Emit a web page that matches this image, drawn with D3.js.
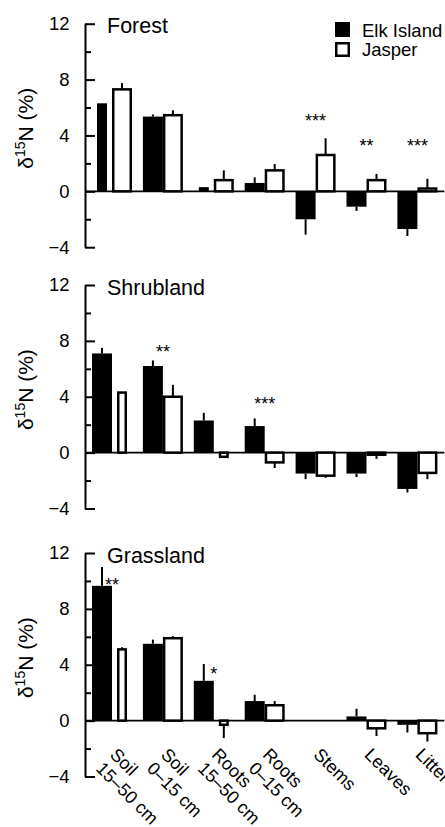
<!DOCTYPE html>
<html>
<head>
<meta charset="utf-8">
<script src="https://cdn.jsdelivr.net/npm/d3@7"></script>
<style>
  html, body { margin: 0; padding: 0; background: #fff; }
  svg { display: block; font-family: "Liberation Sans", Arial, Helvetica, sans-serif; }
</style>
</head>
<body>
<svg id="chart" width="445" height="827"></svg>
<script>
// ---------------- DATA ----------------
const categories = ["Soil 15–50 cm", "Soil 0–15 cm", "Roots 15–50 cm", "Roots 0–15 cm", "Stems", "Leaves", "Litter"];
const categoryLabelLines = [["Soil", "15–50 cm"], ["Soil", "0–15 cm"], ["Roots", "15–50 cm"], ["Roots", "0–15 cm"], ["Stems"], ["Leaves"], ["Litter"]];
const seriesNames = ["Elk Island", "Jasper"];
const panelNames = ["Forest", "Shrubland", "Grassland"];
const yTicksMajor = [-4, 0, 4, 8, 12];
const yTicksMinor = [-2, 2, 6, 10];

// δ15N values (‰) and one-sided error bars
const forestElk      = [6.3, 5.35, 0.3, 0.6, -2.0, -1.1, -2.7];
const forestElkErr   = [0, 0.15, 0, 0.4, 1.1, 0.3, 0.5];
const forestJasper   = [7.3, 5.45, 0.8, 1.5, 2.6, 0.8, 0.2];
const forestJasperErr= [0.45, 0.35, 0.7, 0.45, 1.2, 0.45, 0.7];

const shrubElk       = [7.1, 6.2, 2.3, 1.9, -1.5, -1.5, -2.6];
const shrubElkErr    = [0.4, 0.4, 0.55, 0.55, 0.4, 0.25, 0.25];
const shrubJasper    = [4.3, 4.0, -0.3, -0.7, -1.65, -0.15, -1.45];
const shrubJasperErr = [0, 0.85, 0, 0.4, 0.15, 0.3, 0.45];

const grassElk       = [9.65, 5.5, 2.85, 1.4, null, 0.3, -0.3];
const grassElkErr    = [1.35, 0.3, 1.2, 0.45, null, 0.55, 0.55];
const grassJasper    = [5.1, 5.9, -0.3, 1.1, null, -0.55, -0.9];
const grassJasperErr = [0.15, 0.15, 0.95, 0.3, null, 0.55, 0.6];

// significance marks and the δ15N level they sit at
const forestSig      = ["", "", "", "", "***", "**", "***"];
const forestSigLevel = [null, null, null, null, 4.6, 2.85, 2.85];
const shrubSig       = ["", "**", "", "***", "", "", ""];
const shrubSigLevel  = [null, 6.75, null, 3.05, null, null, null];
const grassSig       = ["**", "", "*", "", "", "", ""];
const grassSigLevel  = [9.25, null, 2.88, null, null, null, null];

// ---------------- LAYOUT / STYLE ----------------
const panelTops = [23.7, 285, 553];   // pixel y of the 12 tick in each panel
const panelHeight = 223.5;            // from 12 down to -4
const axisX = 85, plotRight = 444.4;
const narrowBars = { // bars drawn narrower in the source figure: [category index, series index]
  Forest: [[0, 0], [2, 0]],
  Shrubland: [[0, 1], [2, 1]],
  Grassland: [[0, 1], [2, 1]]
};

const panels = [
  { name: panelNames[0], vals: [forestElk, forestJasper], errs: [forestElkErr, forestJasperErr], sig: forestSig, sigLevel: forestSigLevel },
  { name: panelNames[1], vals: [shrubElk, shrubJasper], errs: [shrubElkErr, shrubJasperErr], sig: shrubSig, sigLevel: shrubSigLevel },
  { name: panelNames[2], vals: [grassElk, grassJasper], errs: [grassElkErr, grassJasperErr], sig: grassSig, sigLevel: grassSigLevel }
];

const svg = d3.select("#chart");

const x = d3.scaleBand()
  .domain(categories)
  .range([axisX, plotRight])
  .paddingInner(0.214)
  .paddingOuter(0.1375);
const bw = x.bandwidth();
const fmt = d => d < 0 ? "\u2212" + Math.abs(d) : String(d);

panels.forEach((p, pi) => {
  const top = panelTops[pi];
  const y = d3.scaleLinear().domain([-4, 12]).range([top + panelHeight, top]);
  const g = svg.append("g");
  const zeroY = y(0);

  // zero line
  g.append("line")
    .attr("x1", axisX).attr("x2", plotRight)
    .attr("y1", zeroY).attr("y2", zeroY)
    .attr("stroke", "#000").attr("stroke-width", 1.8);

  // y axis (major ticks with labels)
  const ax = g.append("g")
    .attr("transform", `translate(${axisX},0)`)
    .call(d3.axisLeft(y).tickValues(yTicksMajor).tickSize(-10).tickSizeOuter(0).tickPadding(15.5).tickFormat(fmt));
  ax.attr("font-size", null).attr("font-family", null);
  ax.select(".domain").attr("stroke-width", 2);
  ax.selectAll(".tick line").attr("stroke-width", 2);
  ax.selectAll(".tick text").attr("font-size", 18.5).attr("fill", "#000");

  // minor ticks
  const axm = g.append("g")
    .attr("transform", `translate(${axisX},0)`)
    .call(d3.axisLeft(y).tickValues(yTicksMinor).tickSize(-6).tickSizeOuter(0).tickFormat(""));
  axm.select(".domain").remove();
  axm.selectAll(".tick line").attr("stroke-width", 2);

  // y label
  const yl = g.append("text")
    .attr("transform", `translate(33,${zeroY - 63}) rotate(-90)`)
    .attr("text-anchor", "middle")
    .attr("font-size", 21)
    .attr("fill", "#000");
  yl.append("tspan").text("δ");
  yl.append("tspan").attr("font-size", 14).attr("dy", -8).text("15");
  yl.append("tspan").attr("dy", 8).text("N (%)");

  // panel title
  g.append("text")
    .attr("x", 107).attr("y", top + 9.5)
    .attr("font-size", 21.5)
    .attr("fill", "#000")
    .text(p.name);

  const narrow = narrowBars[p.name] || [];
  const isNarrow = (ci, si) => narrow.some(n => n[0] === ci && n[1] === si);

  // bars + error bars
  categories.forEach((cat, ci) => {
    [0, 1].forEach(si => {
      const v = p.vals[si][ci];
      if (v == null) return;
      const e = p.errs[si][ci] || 0;
      let bx = x(cat) + si * bw / 2;
      let w = bw / 2;
      if (isNarrow(ci, si)) { bx += w * 0.25; w = w * 0.5; }
      const cx = bx + w / 2;
      const sgn = v >= 0 ? 1 : -1;
      if (e > 0) {
        g.append("line")
          .attr("x1", cx).attr("x2", cx)
          .attr("y1", y(v)).attr("y2", y(v + sgn * e))
          .attr("stroke", "#000").attr("stroke-width", 2);
      }
      const y0 = Math.min(y(v), y(0)), h = Math.abs(y(v) - y(0));
      if (si === 0) {
        g.append("rect")
          .attr("x", bx).attr("y", y0).attr("width", w).attr("height", h)
          .attr("fill", "#000");
      } else {
        g.append("rect")
          .attr("x", bx + 1.25).attr("y", y0).attr("width", Math.max(w - 2.5, 0.5)).attr("height", h)
          .attr("fill", "#fff").attr("stroke", "#000").attr("stroke-width", 2.5);
      }
    });
    // significance marks
    if (p.sig[ci]) {
      g.append("text")
        .attr("x", x(cat) + bw / 2)
        .attr("y", y(p.sigLevel[ci]))
        .attr("text-anchor", "middle")
        .attr("font-size", 18)
        .attr("fill", "#000")
        .text(p.sig[ci]);
    }
  });

  // legend in first panel
  if (pi === 0) {
    const lg = g.append("g");
    lg.append("rect").attr("x", 335).attr("y", 22).attr("width", 15).attr("height", 15).attr("fill", "#000");
    lg.append("rect").attr("x", 336.25).attr("y", 43.25).attr("width", 12.5).attr("height", 12.5)
      .attr("fill", "#fff").attr("stroke", "#000").attr("stroke-width", 2.5);
    lg.append("text").attr("x", 362).attr("y", 36.5).attr("font-size", 18.5).attr("fill", "#000").text(seriesNames[0]);
    lg.append("text").attr("x", 362).attr("y", 56).attr("font-size", 18.5).attr("fill", "#000").text(seriesNames[1]);
  }

  // category labels on the last panel
  if (pi === panels.length - 1) {
    categories.forEach((cat, ci) => {
      const t = g.append("text")
        .attr("transform", `translate(${x(cat) + bw / 2 - 3},${zeroY + 35}) rotate(45)`)
        .attr("font-size", 18)
        .attr("fill", "#000");
      categoryLabelLines[ci].forEach((line, li) => {
        t.append("tspan").attr("x", 0).attr("dy", li === 0 ? 0 : "1.1em").text(line);
      });
    });
  }
});
</script>
</body>
</html>
